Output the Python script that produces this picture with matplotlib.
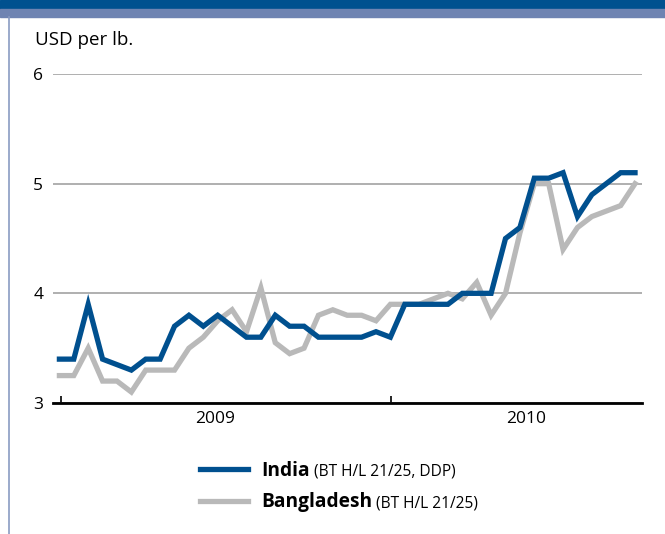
import matplotlib
matplotlib.use("Agg")
import matplotlib.pyplot as plt
from matplotlib.patches import Rectangle
from matplotlib.lines import Line2D

plt.rcParams['font.family'] = ['Open Sans', 'DejaVu Sans']

# half-monthly prices, USD per lb.
india = [3.4, 3.4, 3.9, 3.4, 3.35, 3.3, 3.4, 3.4, 3.7, 3.8,
         3.7, 3.8, 3.7, 3.6, 3.6, 3.8, 3.7, 3.7, 3.6, 3.6,
         3.6, 3.6, 3.65, 3.6, 3.9, 3.9, 3.9, 3.9, 4.0, 4.0,
         4.0, 4.5, 4.6, 5.05, 5.05, 5.1, 4.7, 4.9, 5.0, 5.1, 5.1]
bangladesh = [3.25, 3.25, 3.5, 3.2, 3.2, 3.1, 3.3, 3.3, 3.3, 3.5,
              3.6, 3.75, 3.85, 3.65, 4.05, 3.55, 3.45, 3.5, 3.8, 3.85,
              3.8, 3.8, 3.75, 3.9, 3.9, 3.9, 3.95, 4.0, 3.95, 4.1,
              3.8, 4.0, 4.55, 5.0, 5.0, 4.4, 4.6, 4.7, 4.75, 4.8, 5.0]
years = ['2009', '2010']
y_ticks = [3, 4, 5, 6]
notes = [' (BT H/L 21/25, DDP)', ' (BT H/L 21/25)']

# where the year boundaries and year labels sit on the index axis
year_starts = [0.11, 23.04]
year_label_pos = [10.81, 32.43]

W, H = 665, 534
fig = plt.figure(figsize=(W / 100, H / 100), dpi=100)

# header bars and left rule
fig.patches.append(Rectangle((0, 1 - 8.5 / H), 1, 8.5 / H, transform=fig.transFigure,
                             color='#00518f', zorder=0))
fig.patches.append(Rectangle((0, 1 - 17 / H), 1, 8.5 / H, transform=fig.transFigure,
                             color='#6f84b2', zorder=0))
fig.lines.append(Line2D([8.5 / W, 8.5 / W], [0, 1 - 17 / H], transform=fig.transFigure,
                        color='#8a9cc2', lw=1.2))

ax = fig.add_axes([53 / W, 1 - 403 / H, (641.5 - 53) / W, (403 - 74) / H])

x = list(range(len(india)))
ax.plot(x, bangladesh, color='#b9b9b9', lw=3.8, solid_joinstyle='miter',
        label='Bangladesh', zorder=3)
ax.plot(x, india, color='#00508f', lw=3.8, solid_joinstyle='miter',
        label='India', zorder=4)

ax.set_xlim(-0.445, 40.45)
ax.set_ylim(3, 6)

for s in ['top', 'right', 'left']:
    ax.spines[s].set_visible(False)
ax.spines['bottom'].set_linewidth(2.0)
ax.spines['bottom'].set_color('black')

ax.set_yticks(y_ticks)
ax.set_yticklabels([str(v) for v in y_ticks])
ax.tick_params(axis='y', length=0, pad=7, labelsize=12.5)
ax.grid(axis='y', color='#9a9a9a', lw=1.1)
ax.set_axisbelow(True)

ax.set_xticks(year_starts)
ax.set_xticklabels(['', ''])
ax.tick_params(axis='x', which='major', direction='in', length=5, width=1.2, color='black')
ax.set_xticks(year_label_pos, minor=True)
ax.set_xticklabels(years, minor=True)
ax.tick_params(axis='x', which='minor', length=0, pad=6, labelsize=12.5)

fig.text(35 / W, 1 - 40 / H, 'USD per lb.', fontsize=13.5, va='center', ha='left')

# legend: bold names from the lines, small notes added after each name
handles, labels = ax.get_legend_handles_labels()
leg = ax.legend(handles[::-1], labels[::-1], loc='upper left',
                bbox_to_anchor=(200 / W, 1 - 461 / H), bbox_transform=fig.transFigure,
                frameon=False, borderpad=0, borderaxespad=0, handlelength=2.5,
                handletextpad=0.7, labelspacing=0.6,
                prop={'weight': 'bold', 'size': 13.8})
for t, note in zip(leg.get_texts(), notes):
    ax.annotate(note, xy=(1, 0.45), xycoords=t, va='center', ha='left',
                fontsize=11.2, zorder=10)

plt.savefig('out.png', dpi=100)
